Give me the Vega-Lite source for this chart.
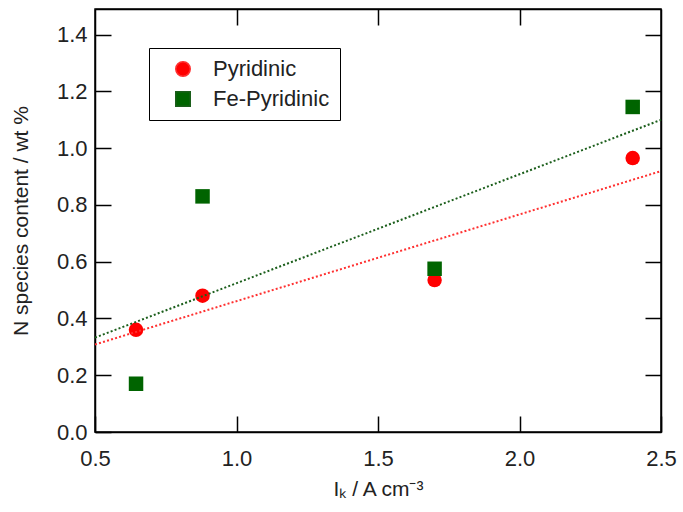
{
  "$schema": "https://vega.github.io/schema/vega-lite/v6.json",
  "width": 566,
  "height": 423,
  "autosize": {"type": "none"},
  "padding": {"left": 95, "top": 9, "right": 22, "bottom": 80},
  "background": "white",
  "config": {
    "font": "Liberation Sans",
    "view": {"stroke": "#000", "strokeWidth": 1.5},
    "axis": {
      "domainColor": "#000",
      "domainWidth": 1.5,
      "tickColor": "#000",
      "tickWidth": 1.5,
      "tickSize": -16,
      "grid": false,
      "labelFlush": false,
      "labelOverlap": false,
      "labelFont": "Liberation Sans",
      "titleFont": "Liberation Sans",
      "labelFontSize": 22,
      "titleFontSize": 21,
      "labelColor": "#222",
      "titleColor": "#222",
      "titleFontWeight": "normal"
    },
    "legend": {
      "labelFont": "Liberation Sans",
      "labelFontSize": 22,
      "labelColor": "#222"
    }
  },
  "data": {
    "values": [
      {"series": "Pyridinic", "x": 0.645, "y": 0.36},
      {"series": "Pyridinic", "x": 0.88, "y": 0.48},
      {"series": "Pyridinic", "x": 1.70, "y": 0.535},
      {"series": "Pyridinic", "x": 2.40, "y": 0.965},
      {"series": "Fe-Pyridinic", "x": 0.645, "y": 0.17},
      {"series": "Fe-Pyridinic", "x": 0.88, "y": 0.83},
      {"series": "Fe-Pyridinic", "x": 1.70, "y": 0.575},
      {"series": "Fe-Pyridinic", "x": 2.40, "y": 1.145}
    ]
  },
  "layer": [
    {
      "mark": {"type": "point", "filled": true, "opacity": 1, "size": 210},
      "encoding": {
        "x": {
          "field": "x",
          "type": "quantitative",
          "scale": {"domain": [0.5, 2.5], "nice": false, "zero": false},
          "axis": {
            "orient": "bottom",
            "values": [0.5, 1, 1.5, 2, 2.5],
            "format": ".1f",
            "labelPadding": 32,
            "title": "Iₖ / A cm⁻³",
            "titlePadding": 9
          }
        },
        "y": {
          "field": "y",
          "type": "quantitative",
          "scale": {"domain": [0, 1.49], "nice": false, "zero": true},
          "axis": {
            "orient": "left",
            "values": [0, 0.2, 0.4, 0.6, 0.8, 1.0, 1.2, 1.4],
            "format": ".1f",
            "labelPadding": 24,
            "title": "N species content / wt %",
            "titlePadding": 25
          }
        },
        "color": {
          "field": "series",
          "type": "nominal",
          "scale": {"domain": ["Pyridinic", "Fe-Pyridinic"], "range": ["#ff0000", "#006400"]},
          "legend": {
            "title": null,
            "orient": "none",
            "legendX": 54,
            "legendY": 39,
            "strokeColor": "#000",
            "padding": 10,
            "symbolOffset": 13,
            "symbolSize": 210,
            "rowPadding": 8,
            "labelOffset": 19
          }
        },
        "shape": {
          "field": "series",
          "type": "nominal",
          "scale": {"domain": ["Pyridinic", "Fe-Pyridinic"], "range": ["circle", "square"]},
          "legend": {
            "title": null,
            "orient": "none",
            "legendX": 54,
            "legendY": 39,
            "strokeColor": "#000",
            "padding": 10,
            "symbolOffset": 13,
            "symbolSize": 210,
            "rowPadding": 8,
            "labelOffset": 19
          }
        }
      }
    },
    {
      "transform": [
        {"regression": "y", "on": "x", "groupby": ["series"], "extent": [0.5, 2.5]}
      ],
      "mark": {"type": "line", "strokeWidth": 2, "strokeDash": [2, 2.2]},
      "encoding": {
        "x": {
          "field": "x",
          "type": "quantitative",
          "axis": {"orient": "top", "values": [1, 1.5, 2], "labels": false, "title": null}
        },
        "y": {
          "field": "y",
          "type": "quantitative",
          "axis": {"orient": "right", "values": [0.2, 0.4, 0.6, 0.8, 1.0, 1.2, 1.4], "labels": false, "title": null}
        },
        "stroke": {
          "field": "series",
          "type": "nominal",
          "scale": {"domain": ["Pyridinic", "Fe-Pyridinic"], "range": ["#ff3030", "#1b5e1b"]},
          "legend": null
        }
      }
    }
  ],
  "resolve": {"axis": {"x": "independent", "y": "independent"}}
}
